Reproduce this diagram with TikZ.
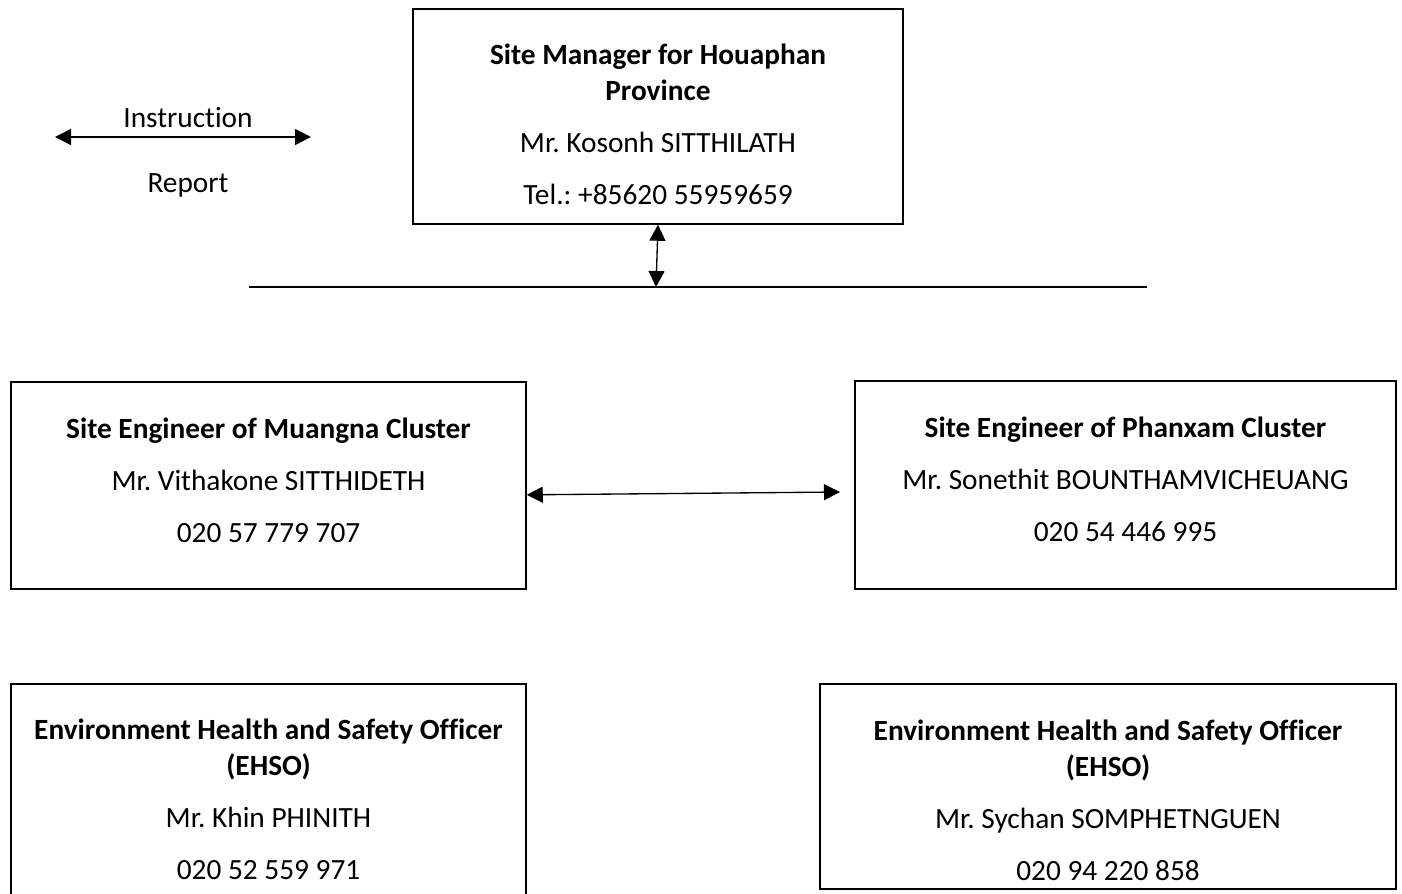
\documentclass[tikz,border=0pt]{standalone}
\usepackage{fontspec}
\setmainfont{Carlito}[Ligatures=NoCommon]
\frenchspacing
\usetikzlibrary{arrows.meta,calc}

\tikzset{
	box/.style={draw, line width=0.6pt, inner sep=0pt},
	boxtext/.style={align=center, font=\fontsize{11}{13.5}\selectfont},
	link/.style={line width=0.5pt, {Triangle[length=6pt,width=6pt]}-{Triangle[length=6pt,width=6pt]}}
}

\begin{document}
\begin{tikzpicture}[x=0.375pt, y=-0.375pt]

	% page
	\clip (0,0) rectangle (1402,894);

	% parameters
	\def\gap{6pt}

	% legend
	\coordinate (legL) at (55,137);
	\coordinate (legR) at (311,137);
	\draw[link] (legL) -- (legR);
	\node[boxtext] (instr) at (188,118) {Instruction};
	\node[boxtext] (report) at (188,185) {Report};

	% boxes
	\node[box, minimum width=183.75pt, minimum height=80.6pt] (mgr) at (658,116.5) {};
	\node[box, minimum width=193.1pt, minimum height=77.6pt] (engL) at (268.5,485.5) {};
	\node[box, minimum width=202.9pt, minimum height=78pt] (engR) at (1125.5,485) {};
	\node[box, minimum width=193.1pt, minimum height=84pt] (ehsoL) at (268.5,796) {};
	\node[box, minimum width=216pt, minimum height=76.9pt] (ehsoR) at (1108,786.5) {};

	% box texts
	\node[boxtext] (mgrT) at (658,124) {\textbf{Site Manager for Houaphan}\\\textbf{Province}\\[\gap]
		Mr. Kosonh SITTHILATH\\[\gap]Tel.: +85620 55959659};
	\node[boxtext] (engLT) at (268.5,480) {\textbf{Site Engineer of Muangna Cluster}\\[\gap]
		Mr. Vithakone SITTHIDETH\\[\gap]020 57 779 707};
	\node[boxtext] (engRT) at (1125.5,479) {\textbf{Site Engineer of Phanxam Cluster}\\[\gap]
		Mr. Sonethit BOUNTHAMVICHEUANG\\[\gap]020 54 446 995};
	\node[boxtext] (ehsoLT) at (268.5,799) {\textbf{Environment Health and Safety Officer}\\\textbf{(EHSO)}\\[\gap]
		Mr. Khin PHINITH\\[\gap]020 52 559 971};
	\node[boxtext] (ehsoRT) at (1108,800) {\textbf{Environment Health and Safety Officer}\\\textbf{(EHSO)}\\[\gap]
		Mr. Sychan SOMPHETNGUEN\\[\gap]020 94 220 858};

	% bar
	\coordinate (barL) at (249,287);
	\coordinate (barR) at (1147,287);
	\coordinate (barM) at (656,287);
	\draw[line width=0.5pt] (barL) -- (barR);

	% arrows
	\draw[link] (mgr.south) -- (barM);
	\coordinate (engRtip) at (840,492);
	\draw[link] ([yshift=-3.5pt]engL.east) -- (engRtip);

\end{tikzpicture}
\end{document}
